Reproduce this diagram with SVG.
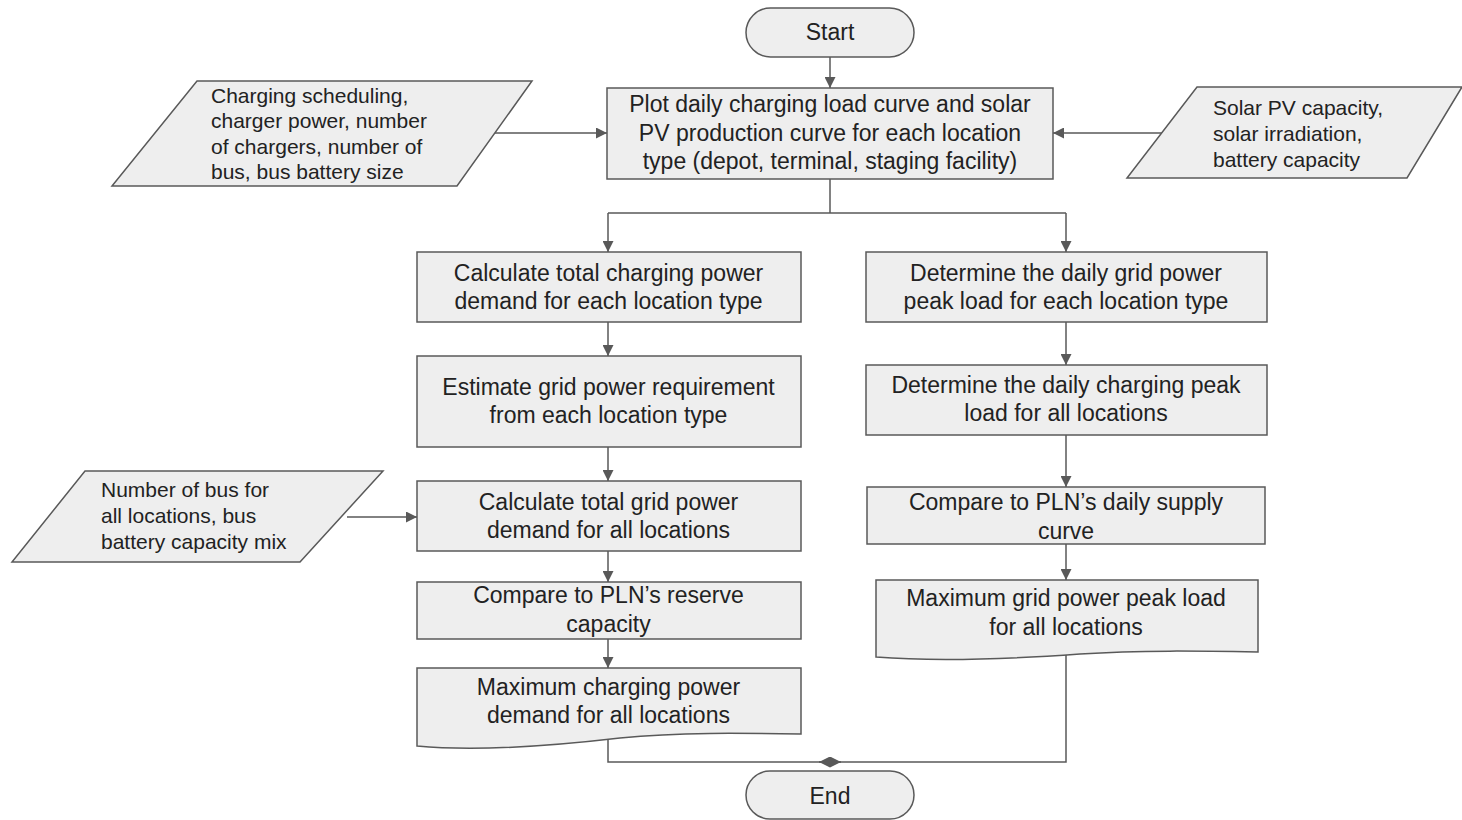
<svg xmlns="http://www.w3.org/2000/svg" width="1462" height="820" viewBox="0 0 1462 820">
<defs>
<style>
.n{fill:#eeeeee;stroke:#595959;stroke-width:1.5}
.t{font-family:"Liberation Sans",Arial,sans-serif;font-size:23px;fill:#222;text-anchor:middle}
.s{font-family:"Liberation Sans",Arial,sans-serif;font-size:21px;fill:#222}
.c{fill:none;stroke:#595959;stroke-width:1.5}
</style>
<marker id="a" viewBox="0 0 10 10" refX="10" refY="5" markerWidth="12" markerHeight="11" markerUnits="userSpaceOnUse" orient="auto"><path d="M0,0 L10,5 L0,10 Z" fill="#595959"/></marker>
</defs>
<rect width="1462" height="820" fill="#fff"/>
<g id="connectors">
<path class="c" d="M830,57 V88" marker-end="url(#a)"/>
<path class="c" d="M494,133 H607" marker-end="url(#a)"/>
<path class="c" d="M1162,133 H1053" marker-end="url(#a)"/>
<path class="c" d="M830,179 V213 M608,213 H1066"/>
<path class="c" d="M608,213 V252" marker-end="url(#a)"/>
<path class="c" d="M1066,213 V252" marker-end="url(#a)"/>
<path class="c" d="M608,322 V356" marker-end="url(#a)"/>
<path class="c" d="M608,447 V481" marker-end="url(#a)"/>
<path class="c" d="M347,517 H417" marker-end="url(#a)"/>
<path class="c" d="M608,551 V582" marker-end="url(#a)"/>
<path class="c" d="M608,639 V668" marker-end="url(#a)"/>
<path class="c" d="M1066,322 V365" marker-end="url(#a)"/>
<path class="c" d="M1066,435 V487" marker-end="url(#a)"/>
<path class="c" d="M1066,544 V580" marker-end="url(#a)"/>
<path class="c" d="M608,740 V762 H841" marker-end="url(#a)"/>
<path class="c" d="M1066,654 V762 H819" marker-end="url(#a)"/>
</g>
<g id="start"><rect class="n" x="746" y="8" width="168" height="49" rx="24.5"/><text class="t" x="830" y="40">Start</text></g>
<g id="plot"><rect class="n" x="607" y="88" width="446" height="91"/>
<text class="t" x="830" y="112">Plot daily charging load curve and solar</text>
<text class="t" x="830" y="141">PV production curve for each location</text>
<text class="t" x="830" y="169">type (depot, terminal, staging facility)</text></g>
<g id="in1"><path class="n" d="M197,81 H532 L457,186 H112 Z"/>
<text class="s" x="211" y="103">Charging scheduling,</text>
<text class="s" x="211" y="128">charger power, number</text>
<text class="s" x="211" y="154">of chargers, number of</text>
<text class="s" x="211" y="179">bus, bus battery size</text></g>
<g id="in2"><path class="n" d="M1197,87 H1462 L1407,178 H1127 Z"/>
<text class="s" x="1213" y="115">Solar PV capacity,</text>
<text class="s" x="1213" y="141">solar irradiation,</text>
<text class="s" x="1213" y="167">battery capacity</text></g>
<g id="in3"><path class="n" d="M85,471 H383 L300,562 H12 Z"/>
<text class="s" x="101" y="497">Number of bus for</text>
<text class="s" x="101" y="523">all locations, bus</text>
<text class="s" x="101" y="549">battery capacity mix</text></g>
<g id="l1"><rect class="n" x="417" y="252" width="384" height="70"/>
<text class="t" x="608.5" y="281">Calculate total charging power</text>
<text class="t" x="608.5" y="309">demand for each location type</text></g>
<g id="l2"><rect class="n" x="417" y="356" width="384" height="91"/>
<text class="t" x="608.5" y="395">Estimate grid power requirement</text>
<text class="t" x="608.5" y="423">from each location type</text></g>
<g id="l3"><rect class="n" x="417" y="481" width="384" height="70"/>
<text class="t" x="608.5" y="510">Calculate total grid power</text>
<text class="t" x="608.5" y="538">demand for all locations</text></g>
<g id="l4"><rect class="n" x="417" y="582" width="384" height="57"/>
<text class="t" x="608.5" y="603">Compare to PLN’s reserve</text>
<text class="t" x="608.5" y="632">capacity</text></g>
<g id="l5"><path class="n" d="M417,668 H801 V734 C740,733 680,732 620,738 C560,745 480,752 417,746 Z"/>
<text class="t" x="608.5" y="695">Maximum charging power</text>
<text class="t" x="608.5" y="723">demand for all locations</text></g>
<g id="r1"><rect class="n" x="866" y="252" width="401" height="70"/>
<text class="t" x="1066" y="281">Determine the daily grid power</text>
<text class="t" x="1066" y="309">peak load for each location type</text></g>
<g id="r2"><rect class="n" x="866" y="365" width="401" height="70"/>
<text class="t" x="1066" y="393">Determine the daily charging peak</text>
<text class="t" x="1066" y="421">load for all locations</text></g>
<g id="r3"><rect class="n" x="867" y="487" width="398" height="57"/>
<text class="t" x="1066" y="510">Compare to PLN’s daily supply</text>
<text class="t" x="1066" y="539">curve</text></g>
<g id="r4"><path class="n" d="M876,580 H1258 V652 C1200,651 1140,650 1080,654 C1010,659 940,662 876,657 Z"/>
<text class="t" x="1066" y="606">Maximum grid power peak load</text>
<text class="t" x="1066" y="635">for all locations</text></g>
<g id="end"><rect class="n" x="746" y="771" width="168" height="48" rx="24"/><text class="t" x="830" y="804">End</text></g>
</svg>
